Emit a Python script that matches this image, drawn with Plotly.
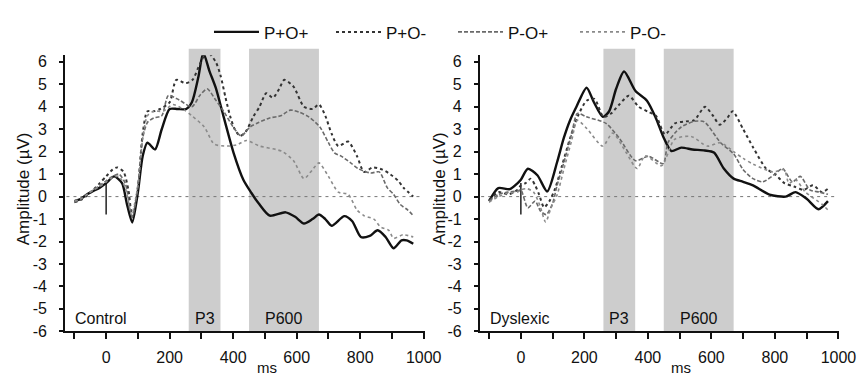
import plotly.graph_objects as go

# ---------------- data (ms, µV) ----------------
series_names = ["P+O+", "P+O-", "P-O+", "P-O-"]

# Control group
ctrl_t_pp = [-100,-80,-60,-40,-20,0,25,50,65,82,100,115,130,154,175,200,225,252,270,290,306,325,345,370,401,432,457,480,515,565,595,623,650,670,690,710,750,775,802,830,855,880,905,930,946,967]
ctrl_v_pp = [-0.2,-0.1,0.1,0.25,0.4,0.6,0.9,0.6,-0.3,-1.15,0.2,1.8,2.4,2.1,3.0,3.9,3.9,3.9,4.2,5.3,6.4,5.6,4.85,3.55,1.96,0.75,0.17,-0.3,-0.85,-0.7,-0.9,-1.2,-1.0,-0.8,-1.0,-1.3,-0.87,-1.1,-1.8,-1.75,-1.5,-1.8,-2.3,-1.95,-1.95,-2.1]

ctrl_t_pm = [-100,-80,-60,-40,-20,0,20,35,55,70,82,100,115,130,150,170,200,221,250,272,295,318,345,360,376,391,405,422,440,463,483,504,525,545,561,590,623,650,670,690,710,731,762,790,812,840,870,889,920,936,967]
ctrl_v_pm = [-0.25,-0.15,0.05,0.3,0.6,0.9,1.2,1.3,1.1,0.3,-0.9,0.4,2.8,3.8,3.8,3.9,4.2,5.2,5.05,5.2,5.9,6.45,6.0,5.4,4.4,3.55,3.0,2.7,2.9,3.55,4.0,4.6,4.4,4.8,5.2,4.9,4.0,3.9,4.1,3.6,2.8,2.25,2.45,1.8,1.1,1.3,1.2,1.05,0.7,0.4,0.0]

ctrl_t_mp = [-100,-80,-60,-40,-20,0,20,40,60,82,100,115,130,150,175,196,230,270,295,318,345,370,400,425,453,480,515,550,580,610,638,673,700,719,740,770,793,833,860,885,905,926,950,967]
ctrl_v_mp = [-0.25,-0.1,0.1,0.3,0.5,0.7,0.9,1.0,0.6,-0.9,0.5,2.6,3.3,3.5,3.6,4.5,4.3,4.0,4.5,4.8,4.3,3.8,3.1,2.7,3.1,3.3,3.5,3.6,3.85,3.75,3.55,3.1,2.4,1.95,1.8,1.5,1.25,1.05,1.1,0.4,0.1,-0.35,-0.6,-0.85]

ctrl_t_mm = [-100,-80,-60,-40,-20,0,20,40,60,80,100,115,130,150,180,210,247,270,309,340,380,411,442,483,534,556,590,623,650,670,700,731,762,790,812,843,864,890,905,935,967]
ctrl_v_mm = [-0.2,-0.1,0.1,0.3,0.45,0.65,0.85,0.9,0.4,-0.8,0.5,2.6,3.6,3.8,3.8,4.1,3.85,3.6,3.1,2.34,2.25,2.3,2.5,2.25,2.1,2.0,1.6,0.8,1.2,1.5,0.9,0.2,0.1,-0.6,-0.85,-1.0,-1.35,-1.5,-1.86,-1.7,-1.8]

# Dyslexic group
dys_t_pp = [-100,-71,-35,-10,0,22,52,83,114,135,155,175,207,230,258,278,300,325,361,397,425,448,474,505,540,579,608,639,670,700,731,783,834,865,900,937,967]
dys_v_pp = [-0.2,0.38,0.33,0.6,0.75,1.24,0.95,0.23,1.53,2.6,3.4,4.0,4.85,4.2,3.55,3.8,4.8,5.57,4.7,4.27,3.5,2.68,2.03,2.18,2.1,2.05,1.96,1.25,0.8,0.66,0.5,0.09,0.0,0.2,-0.1,-0.56,-0.2]

dys_t_pm = [-100,-70,-40,-10,0,15,31,45,58,73,90,108,130,155,180,207,232,260,284,310,340,371,402,425,454,485,520,546,580,605,626,650,667,700,731,772,800,830,860,890,920,948,967]
dys_v_pm = [-0.15,0.2,0.1,0.3,0.5,0.6,0.8,0.5,0.07,-0.48,-0.2,0.36,1.4,2.6,3.6,4.27,4.35,3.55,3.7,4.1,4.49,4.0,3.77,3.6,2.77,3.26,3.35,3.4,4.0,3.6,3.2,3.5,3.8,3.0,2.2,1.25,1.0,0.6,0.45,0.3,0.5,0.2,0.35]

dys_t_mp = [-100,-70,-40,-10,0,22,45,62,80,100,114,135,160,178,207,268,310,361,402,448,463,485,505,545,577,629,670,700,731,762,800,824,855,880,910,940,967]
dys_v_mp = [-0.2,0.1,0.2,0.25,0.3,-0.5,-0.2,-0.65,-0.8,-0.3,0.5,1.5,2.8,3.7,3.55,3.26,2.6,1.6,1.8,1.47,2.4,2.83,3.1,3.35,3.33,2.4,1.9,1.2,0.8,0.66,1.0,1.25,0.66,0.9,0.3,0.2,0.1]

dys_t_mm = [-100,-70,-40,-10,0,20,40,60,78,95,114,135,160,178,207,258,289,330,366,392,443,484,536,587,629,670,700,731,793,829,844,865,896,948,967]
dys_v_mm = [-0.25,0.0,0.15,0.2,0.3,0.35,0.2,-0.4,-1.13,-0.5,0.07,1.2,2.5,3.4,3.04,2.25,2.83,2.0,1.25,1.82,1.38,2.55,2.68,2.25,2.4,2.0,1.7,1.45,1.1,1.2,0.6,0.75,0.2,-0.34,-0.6]

onset_t = [0, 0]
onset_v = [0.6, -0.8]

windows = [("P3", 260, 360), ("P600", 450, 670)]
group_labels = ["Control", "Dyslexic"]
x_ticks = [0, 200, 400, 600, 800, 1000]
x_minor = [-100, 100, 300, 500, 700, 900]
y_ticks = [-6, -5, -4, -3, -2, -1, 0, 1, 2, 3, 4, 5, 6]
y_ticktext = [str(v) for v in y_ticks]  # plain hyphen minus, as printed

# ---------------- styling ----------------
W, H = 868, 377
styles = [
    dict(color="#111111", width=2.4, dash="solid"),
    dict(color="#333333", width=2.0, dash="dot"),
    dict(color="#6a6a6a", width=1.6, dash="4px,2px"),
    dict(color="#8a8a8a", width=1.6, dash="dot"),
]
FONT = "Liberation Sans, Arial, sans-serif"
INK = "#111111"

def px_x(p):
    return p / W

def px_y(p):
    return 1 - p / H

x_dom = [[px_x(58), px_x(425)], [px_x(481), px_x(848)]]
y_dom = [px_y(331), px_y(46.7)]
x_range = [-130, 1003]
y_range = [-6.0, 6.29]

fig = go.Figure()

panels = [
    ([ctrl_t_pp, ctrl_t_pm, ctrl_t_mp, ctrl_t_mm], [ctrl_v_pp, ctrl_v_pm, ctrl_v_mp, ctrl_v_mm]),
    ([dys_t_pp, dys_t_pm, dys_t_mp, dys_t_mm], [dys_v_pp, dys_v_pm, dys_v_mp, dys_v_mm]),
]

for pi, (ts, vs) in enumerate(panels):
    xa = "x" if pi == 0 else "x2"
    ya = "y" if pi == 0 else "y2"
    # zero line
    fig.add_trace(go.Scatter(x=[x_range[0] + 5, 990], y=[0, 0], mode="lines", xaxis=xa, yaxis=ya,
                             line=dict(color="#777777", width=1, dash="3px,4px"),
                             showlegend=False, hoverinfo="skip"))
    # onset marker
    fig.add_trace(go.Scatter(x=onset_t, y=onset_v, mode="lines", xaxis=xa, yaxis=ya,
                             line=dict(color="#222222", width=1.5), showlegend=False, hoverinfo="skip"))
    for si in range(4):
        st = styles[si]
        fig.add_trace(go.Scatter(
            x=ts[si], y=vs[si], mode="lines", name=series_names[si], xaxis=xa, yaxis=ya,
            line=dict(color=st["color"], width=st["width"], dash=st["dash"], shape="spline", smoothing=0.7),
            showlegend=(pi == 0),
        ))
    # windows
    for (lab, a, b) in windows:
        fig.add_shape(type="rect", xref=xa, yref="paper", x0=a, x1=b, y0=y_dom[0], y1=px_y(40),
                      fillcolor="#cdcdcd", line=dict(width=0), layer="below")
        fig.add_annotation(x=(a + b) / 2, y=-5.45, xref=xa, yref=ya, text=lab, showarrow=False,
                           xanchor="center", yanchor="middle",
                           font=dict(family=FONT, size=16, color=INK))
    fig.add_annotation(x=-103, y=-5.45, xref=xa, yref=ya, text=group_labels[pi], showarrow=False,
                       xanchor="left", yanchor="middle", font=dict(family=FONT, size=16, color=INK))
    # axis titles
    fig.add_annotation(x=px_x(16 if pi == 0 else 440), y=px_y(184), xref="paper", yref="paper",
                       text="Amplitude (µV)", textangle=-90, showarrow=False,
                       xanchor="center", yanchor="middle",
                       font=dict(family=FONT, size=17, color=INK))
    fig.add_annotation(x=505, y=px_y(368), xref=xa, yref="paper",
                       text="ms", showarrow=False, xanchor="center", yanchor="middle",
                       font=dict(family=FONT, size=15, color=INK))

axis_common = dict(showgrid=False, zeroline=False, showline=True, linecolor=INK, linewidth=1.5,
                   ticks="outside", tickcolor=INK, tickfont=dict(family=FONT, size=16, color=INK))

for pi in range(2):
    suffix = "" if pi == 0 else "2"
    fig.update_layout(**{
        "xaxis" + suffix: dict(domain=x_dom[pi], range=x_range, tickvals=x_ticks, ticklen=6, tickwidth=1.5,
                               anchor="y" + suffix, ticklabelstandoff=5,
                               minor=dict(tickvals=x_minor, ticks="outside",
                                          ticklen=6, tickcolor=INK, tickwidth=1.5),
                               **axis_common),
        "yaxis" + suffix: dict(domain=y_dom, range=y_range, tickvals=y_ticks, ticktext=y_ticktext,
                               ticklen=4, tickwidth=1.5, ticklabelstandoff=9,
                               anchor="x" + suffix, **axis_common),
    })

fig.update_layout(
    width=W, height=H, margin=dict(l=0, r=0, t=0, b=0),
    plot_bgcolor="white", paper_bgcolor="white",
    legend=dict(orientation="h", x=px_x(205), xanchor="left", y=px_y(23), yanchor="middle",
                font=dict(family=FONT, size=17, color=INK), itemwidth=45,
                entrywidth=62, entrywidthmode="pixels", bgcolor="rgba(0,0,0,0)"),
)

fig.write_html("out.html")
